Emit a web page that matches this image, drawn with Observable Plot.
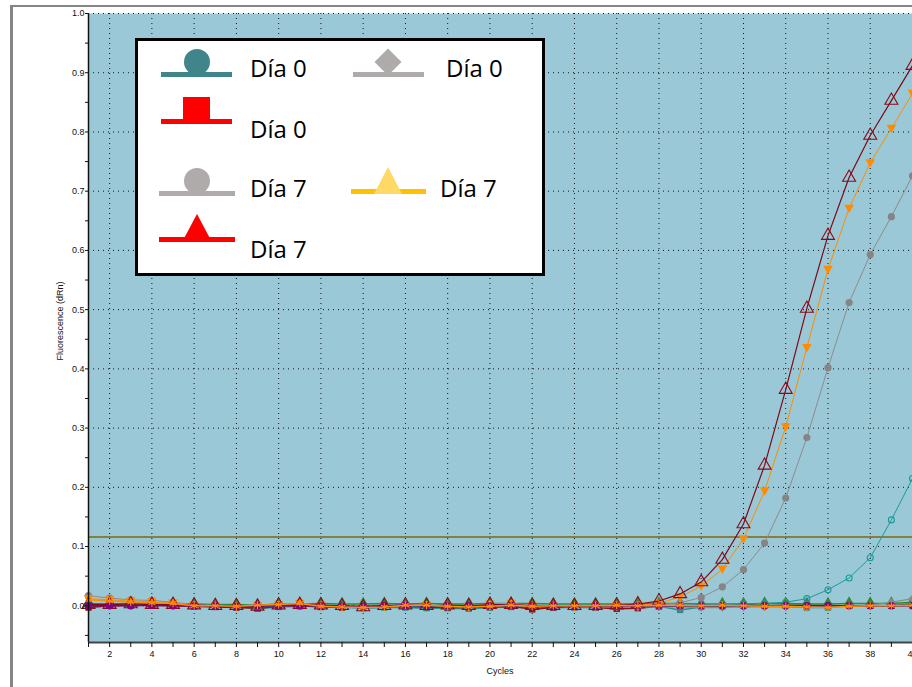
<!DOCTYPE html>
<html><head><meta charset="utf-8">
<script src="https://cdn.jsdelivr.net/npm/d3@7"></script>
<script src="https://cdn.jsdelivr.net/npm/@observablehq/plot@0.6"></script>
<style>
html,body{margin:0;padding:0;background:#fff;overflow:hidden;width:912px;height:687px}
#frame{position:absolute;left:10px;top:5px;width:1000px;height:800px;border-left:3px solid #858585;border-top:2px solid #858585;box-sizing:border-box}
#chart{position:absolute;left:0;top:0}
#ylabel{position:absolute;left:60px;top:321px;transform:translate(-50%,-50%) rotate(-90deg);font:9px "Liberation Sans",Arial,sans-serif;color:#111;white-space:nowrap}
#xlabel{position:absolute;left:500px;top:671px;transform:translate(-50%,-50%);font:9px "Liberation Sans",Arial,sans-serif;color:#111;white-space:nowrap}
#legend{position:absolute;left:0;top:0;pointer-events:none}
</style>
</head><body>
<div id="frame"></div>
<div id="chart"></div>
<div id="ylabel">Fluorescence (dRn)</div>
<div id="xlabel">Cycles</div>
<svg id="legend" width="912" height="687"></svg>
<script>
// ---------- data ----------
const cycles = [1,2,3,4,5,6,7,8,9,10,11,12,13,14,15,16,17,18,19,20,21,22,23,24,25,26,27,28,29,30,31,32,33,34,35,36,37,38,39,40];
const xTickLabels = [2,4,6,8,10,12,14,16,18,20,22,24,26,28,30,32,34,36,38,40];
const yTickLabels = [0.0,0.1,0.2,0.3,0.4,0.5,0.6,0.7,0.8,0.9,1.0];
const yMinorTicks = [-0.05,0.05,0.15,0.25,0.35,0.45,0.55,0.65,0.75,0.85,0.95];
const threshold = 0.116;

// amplifying curves
const maroonTri = [0.002,0.002,0.003,0.002,0.002,0.001,0.000,0.000,-0.001,0.001,0.002,0.001,0.000,-0.002,0.000,0.001,0.000,0.001,0.000,0.002,0.002,0.000,0.000,0.000,0.000,0.001,0.003,0.008,0.020,0.040,0.078,0.138,0.237,0.365,0.502,0.625,0.723,0.794,0.853,0.912];
const orangeTri = [0.012,0.010,0.008,0.007,0.005,0.001,0.000,-0.001,0.000,0.002,0.004,0.001,-0.002,-0.003,-0.001,0.001,0.001,0.000,-0.001,0.003,0.004,0.000,0.000,-0.001,0.000,0.000,0.001,0.004,0.015,0.033,0.062,0.113,0.194,0.302,0.436,0.568,0.671,0.748,0.806,0.865];
const grayCircle = [0.017,0.013,0.010,0.009,0.006,0.002,0.001,0.000,-0.001,0.001,0.002,0.000,-0.001,-0.002,0.000,0.000,0.001,-0.001,-0.002,0.001,0.002,-0.001,-0.001,-0.002,-0.002,-0.001,0.000,0.002,0.005,0.014,0.032,0.061,0.106,0.182,0.284,0.402,0.512,0.593,0.657,0.726];
const tealCircle = [0.002,0.002,0.002,0.002,0.001,0.001,0.000,0.000,-0.002,-0.001,0.000,0.000,-0.001,-0.002,-0.001,-0.001,-0.001,-0.002,-0.002,-0.001,0.000,-0.001,-0.001,-0.001,-0.001,-0.001,0.000,0.001,0.001,0.002,0.002,0.003,0.004,0.006,0.012,0.027,0.047,0.081,0.145,0.215];
// flat curves
const grayDiamond = [0.002,0.001,0.001,0.002,0.001,0.000,0.000,-0.001,-0.001,0.000,0.001,0.000,-0.001,-0.002,-0.001,0.000,0.000,-0.001,-0.001,0.000,0.001,-0.001,-0.001,-0.002,-0.002,-0.002,-0.002,-0.002,-0.002,-0.003,-0.003,-0.002,-0.002,-0.002,-0.003,-0.002,0.000,0.001,0.006,0.012];
const greenTri = [0.004,0.003,0.004,0.003,0.003,0.003,0.002,0.002,0.001,0.003,0.003,0.004,0.003,0.003,0.004,0.003,0.004,0.003,0.003,0.004,0.004,0.004,0.003,0.003,0.003,0.003,0.003,0.004,0.004,0.003,0.003,0.003,0.004,0.004,0.003,0.003,0.004,0.004,0.004,0.006];
const purpleCircle = [0.000,0.000,0.000,0.001,0.000,0.000,0.000,-0.001,0.000,0.000,0.000,0.000,-0.001,-0.001,0.000,0.001,0.000,0.000,0.000,0.000,0.001,0.000,0.000,0.000,0.000,0.000,0.000,0.000,0.000,0.000,0.000,0.000,0.000,0.000,0.000,0.000,0.000,0.000,0.000,0.000];
const redSquare = [-0.003,0.000,0.001,0.001,0.000,-0.001,-0.002,-0.003,-0.004,-0.001,0.000,-0.002,-0.003,-0.002,-0.001,-0.001,-0.002,-0.003,-0.003,-0.002,-0.001,-0.006,-0.003,-0.002,-0.003,-0.005,-0.004,-0.001,0.000,0.000,0.001,0.002,0.000,0.001,0.001,0.000,0.000,0.000,0.000,0.001];
const tealSquare = [0.003,0.002,0.002,0.002,0.001,0.000,-0.001,-0.002,-0.005,-0.002,-0.001,-0.001,-0.002,-0.004,-0.003,-0.003,-0.004,-0.004,-0.005,-0.003,-0.002,-0.003,-0.003,-0.003,-0.003,-0.002,-0.001,-0.001,-0.007,-0.002,-0.001,0.000,0.000,0.000,-0.003,-0.003,0.000,0.000,0.000,0.004];
const orangeStar = [0.010,0.008,0.006,0.005,0.004,0.000,0.000,-0.001,0.001,0.002,0.004,-0.001,-0.002,-0.003,-0.002,0.001,0.001,-0.001,-0.002,-0.001,0.001,-0.001,0.000,0.000,0.000,0.001,0.000,0.001,0.001,0.000,0.001,0.000,-0.001,-0.001,-0.002,-0.003,-0.001,0.000,0.000,0.001];

// legend labels
const legendLabels = ["Día 0","Día 0","Día 0","Día 7","Día 7","Día 7"];

// ---------- chart ----------
const X_MIN = 1, X_MAX = 40, Y_MIN = -0.062, Y_MAX = 1.0;
const BG = "#9bc8d7";

const triangleDown = {
  draw(context, size) {
    const s = Math.sqrt(size / Math.PI) * 1.15;
    context.moveTo(0, s);
    context.lineTo(s * 1.0, -s * 0.75);
    context.lineTo(-s * 1.0, -s * 0.75);
    context.closePath();
  }
};

const toRows = (vals) => vals.map((v, i) => ({cycle: cycles[i], value: v}));

// draw order: bottom first
const seriesStyles = [
  {data: tealSquare,  line: "#2a8c8c", lw: 1.5, symbol: "square",  r: 3.6, fill: "#2a8c8c", stroke: "none"},
  {data: redSquare,   line: "#8b1010", lw: 1.5, symbol: "square",  r: 3.6, fill: "#8b1010", stroke: "none"},
  {data: greenTri,    line: "#2e8b2e", lw: 1.5, symbol: "triangle", r: 4.6, fill: "#2e8b2e", stroke: "none"},
  {data: grayDiamond, line: "#8a8a8a", lw: 1.2, symbol: "diamond2", r: 3.8, fill: "#8a8a8a", stroke: "none"},
  {data: tealCircle,  line: "#1a9a9a", lw: 1,   symbol: "circle",  r: 3.0, fill: "none", stroke: "#1a9a9a"},
  {data: grayCircle,  line: "#8c8c8c", lw: 1,   symbol: "circle",  r: 3.6, fill: "#858585", stroke: "none"},
  {data: orangeTri,   line: "#ff8c00", lw: 1,   symbol: triangleDown, r: 4.2, fill: "#ff8c00", stroke: "none"},
  {data: maroonTri,   line: "#7a0a18", lw: 1.2, symbol: "triangle", r: 4.8, fill: "none", stroke: "#8b0a1a"},
  {data: purpleCircle,line: "#800080", lw: 1.5, symbol: "circle",  r: 3.8, fill: "#800080", stroke: "none"},
  {data: orangeStar,  line: "#ff8c00", lw: 1.5, symbol: "asterisk", r: 3.6, fill: "none", stroke: "#ff8c00"}
];

const seriesMarks = [];
for (const s of seriesStyles) {
  const rows = toRows(s.data);
  seriesMarks.push(Plot.line(rows, {x: "cycle", y: "value", stroke: s.line, strokeWidth: s.lw}));
  seriesMarks.push(Plot.dot(rows, {x: "cycle", y: "value", symbol: s.symbol, r: s.r, fill: s.fill, stroke: s.stroke, strokeWidth: s.stroke === "none" ? 0 : 1.1}));
}

const chart = Plot.plot({
  width: 912,
  height: 687,
  marginLeft: 88,
  marginRight: 0,
  marginTop: 13,
  marginBottom: 45,
  style: {background: "transparent", fontFamily: "'Liberation Sans', Arial, sans-serif", fontSize: "9px", overflow: "visible"},
  x: {domain: [X_MIN, X_MAX]},
  y: {domain: [Y_MIN, Y_MAX]},
  marks: [
    Plot.frame({fill: BG, stroke: null}),
    Plot.gridY(yTickLabels, {stroke: "#000", strokeOpacity: 0.9, strokeDasharray: "1,4"}),
    Plot.gridX(xTickLabels, {stroke: "#000", strokeOpacity: 0.9, strokeDasharray: "1,4"}),
    Plot.ruleY([threshold], {stroke: "#86803e", strokeWidth: 2}),
    ...seriesMarks,
    Plot.ruleX([X_MIN], {stroke: "#111", strokeWidth: 1.5}),
    Plot.ruleY([Y_MIN], {stroke: "#444", strokeWidth: 2}),
    Plot.axisY(yTickLabels, {tickSize: 3, tickPadding: 1, tickFormat: d => d.toFixed(1), label: null, color: "#111", fontSize: 9}),
    Plot.axisY(yMinorTicks, {tickSize: 3, tickFormat: () => "", label: null, color: "#111"}),
    Plot.axisX(cycles, {tickSize: 5, tickPadding: 3, tickFormat: d => xTickLabels.includes(d) ? String(d) : "", label: null, color: "#111", fontSize: 9})
  ]
});
document.getElementById("chart").appendChild(chart);

// ---------- legend ----------
const lg = d3.select("#legend");
lg.append("rect").attr("x", 136.5).attr("y", 39.5).attr("width", 407).attr("height", 235)
  .attr("fill", "#fff").attr("stroke", "#000").attr("stroke-width", 3);

// row 1 left: teal circle
lg.append("rect").attr("x", 161).attr("y", 72).attr("width", 71).attr("height", 5).attr("fill", "#3f8589");
lg.append("circle").attr("cx", 197).attr("cy", 62).attr("r", 13).attr("fill", "#3f8589");
// row 1 right: gray diamond
lg.append("rect").attr("x", 353).attr("y", 72).attr("width", 71).attr("height", 5).attr("fill", "#afabab");
lg.append("path").attr("d", "M388,48.5 L401.5,62 L388,75.5 L374.5,62 Z").attr("fill", "#afabab");
// row 2: red square
lg.append("rect").attr("x", 161).attr("y", 119).attr("width", 71).attr("height", 5).attr("fill", "#ff0000");
lg.append("rect").attr("x", 183).attr("y", 97).attr("width", 27).attr("height", 23).attr("fill", "#ff0000");
// row 3 left: gray circle
lg.append("rect").attr("x", 159).attr("y", 191).attr("width", 76).attr("height", 5).attr("fill", "#afabab");
lg.append("circle").attr("cx", 197).attr("cy", 181).attr("r", 13).attr("fill", "#afabab");
// row 3 right: yellow triangle
lg.append("rect").attr("x", 351).attr("y", 189).attr("width", 75).attr("height", 5).attr("fill", "#ffc000");
lg.append("path").attr("d", "M388,167 L402,194 L374,194 Z").attr("fill", "#ffd966");
// row 4: red triangle
lg.append("rect").attr("x", 159).attr("y", 237).attr("width", 76).attr("height", 5).attr("fill", "#ff0000");
lg.append("path").attr("d", "M197,214 L209.5,237.5 L184.5,237.5 Z").attr("fill", "#ff0000");

const textPos = [[250, 77], [446, 77], [250, 138], [250, 197], [440, 197], [250, 258]];
legendLabels.forEach((t, i) => {
  lg.append("text").attr("x", textPos[i][0]).attr("y", textPos[i][1])
    .attr("font-family", "'Open Sans', sans-serif").attr("font-size", 24).attr("fill", "#000").text(t);
});
</script>
</body></html>
